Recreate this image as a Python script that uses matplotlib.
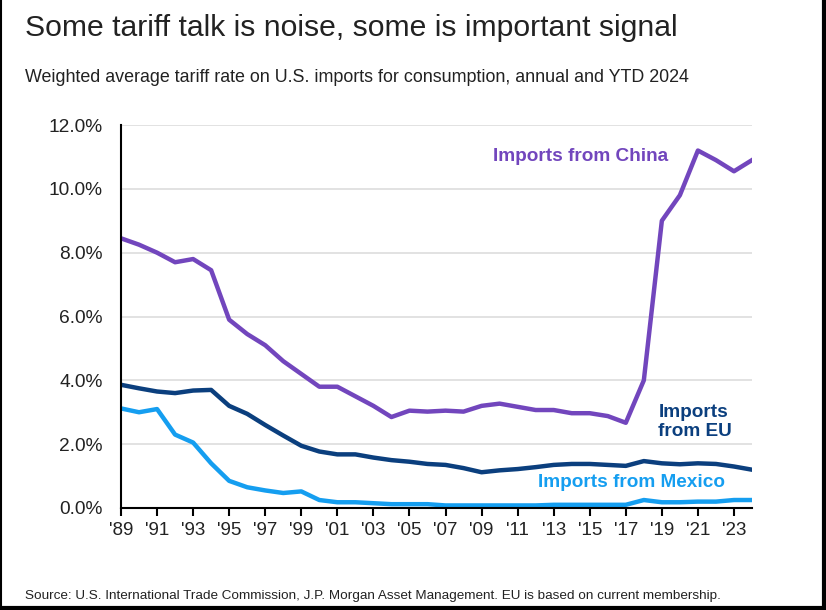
import matplotlib.pyplot as plt
from matplotlib.lines import Line2D

""" DATA """
years = list(range(1989, 2025))
china = [8.45, 8.25, 8.0, 7.7, 7.8, 7.45, 5.9, 5.45, 5.1, 4.6, 4.2, 3.8,
         3.8, 3.5, 3.2, 2.85, 3.05, 3.02, 3.05, 3.02, 3.2, 3.27, 3.17, 3.07,
         3.07, 2.97, 2.97, 2.88, 2.67, 4.0, 9.0, 9.8, 11.2, 10.9, 10.55, 10.9]
eu = [3.86, 3.75, 3.65, 3.6, 3.68, 3.7, 3.2, 2.95, 2.6, 2.27, 1.95, 1.77,
      1.68, 1.68, 1.58, 1.5, 1.45, 1.38, 1.35, 1.25, 1.12, 1.18, 1.22, 1.28,
      1.35, 1.38, 1.38, 1.35, 1.32, 1.47, 1.4, 1.37, 1.4, 1.38, 1.3, 1.2]
mexico = [3.12, 3.0, 3.1, 2.3, 2.05, 1.4, 0.85, 0.65, 0.55, 0.47, 0.52, 0.25,
          0.18, 0.18, 0.15, 0.12, 0.12, 0.12, 0.08, 0.08, 0.08, 0.08, 0.08, 0.08,
          0.1, 0.1, 0.1, 0.1, 0.1, 0.25, 0.18, 0.18, 0.2, 0.2, 0.25, 0.25]
tick_years = list(range(1989, 2024, 2))
tick_labels = ["'" + str(y)[2:] for y in tick_years]
y_ticks = [0, 2, 4, 6, 8, 10, 12]

C_CHINA = '#7246bd'
C_EU = '#0b3f7e'
C_MEX = '#159ef0'

plt.rcParams['font.family'] = ['Liberation Sans', 'DejaVu Sans']

fig = plt.figure(figsize=(8.26, 6.10), dpi=100)
ax = fig.add_axes([121 / 826, 1 - 508 / 610, (752 - 121) / 826, (508 - 125) / 610])

ax.plot(years, china, color=C_CHINA, lw=3.2, solid_joinstyle='round', zorder=3)
ax.plot(years, eu, color=C_EU, lw=3.2, solid_joinstyle='round', zorder=3)
ax.plot(years, mexico, color=C_MEX, lw=3.2, solid_joinstyle='round', zorder=3)

ax.set_xlim(1989, 2024)
ax.set_ylim(0, 12)
ax.set_yticks(y_ticks)
ax.set_yticklabels([f'{v:.1f}%' for v in y_ticks], fontsize=13.8, color='#222222')
ax.set_xticks(tick_years)
ax.set_xticklabels(tick_labels, fontsize=13.5, color='#222222')
ax.tick_params(axis='y', length=0, pad=13)
ax.tick_params(axis='x', direction='out', length=6, width=1.5, color='black', pad=4)
ax.grid(axis='y', color='#dddddd', lw=1.2, zorder=0)
ax.set_axisbelow(True)
for s in ['top', 'right']:
    ax.spines[s].set_visible(False)
ax.spines['left'].set_linewidth(1.5)
ax.spines['bottom'].set_linewidth(1.5)
ax.spines['left'].set_zorder(4)
ax.spines['bottom'].set_zorder(4)

ax.text(2014.5, 11.0, 'Imports from China', color=C_CHINA, fontsize=13.7,
        fontweight='bold', ha='center', va='center')
ax.text(2018.8, 2.7, 'Imports\nfrom EU', color=C_EU, fontsize=13.7,
        fontweight='bold', ha='left', va='center', linespacing=1.15)
ax.text(2017.3, 0.8, 'Imports from Mexico', color=C_MEX, fontsize=13.7,
        fontweight='bold', ha='center', va='center')

fig.text(25 / 826, 1 - 28 / 610, 'Some tariff talk is noise, some is important signal',
         fontsize=21.7, color='#222222', ha='left', va='center')
fig.text(25 / 826, 1 - 77 / 610,
         'Weighted average tariff rate on U.S. imports for consumption, annual and YTD 2024',
         fontsize=12.9, color='#222222', ha='left', va='center')
fig.text(25 / 826, 1 - 596 / 610,
         'Source: U.S. International Trade Commission, J.P. Morgan Asset Management. EU is based on current membership.',
         fontsize=9.7, color='#222222', ha='left', va='center')

# black frame on left, right and bottom edges
fig.add_artist(Line2D([1 / 826, 1 / 826], [0, 1], color='black', lw=1.5, transform=fig.transFigure))
fig.add_artist(Line2D([824 / 826, 824 / 826], [0, 1], color='black', lw=3, transform=fig.transFigure))
fig.add_artist(Line2D([0, 1], [2 / 610, 2 / 610], color='black', lw=3, transform=fig.transFigure))

fig.savefig('out.png', dpi=100)
